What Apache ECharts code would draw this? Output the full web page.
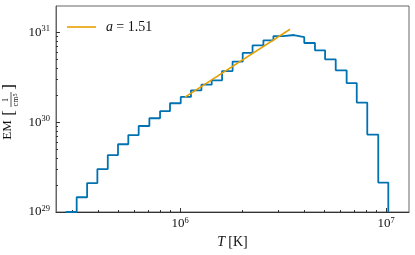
<!DOCTYPE html>
<html>
<head>
<meta charset="utf-8">
<script src="https://cdn.jsdelivr.net/npm/echarts@6/dist/echarts.min.js"></script>
<style>
html,body{margin:0;padding:0;background:#fff;}
#c{width:415px;height:255px;}
</style>
</head>
<body>
<div id="c"></div>
<script>
// ---- data ----
const binEdgesK = [2.79e5, 3.15e5, 3.54e5, 3.97e5, 4.46e5, 5.00e5, 5.61e5, 6.30e5, 7.10e5, 8.00e5,
  8.94e5, 1.008e6, 1.13e6, 1.27e6, 1.425e6, 1.60e6, 1.80e6, 2.015e6, 2.25e6, 2.54e6,
  2.84e6, 3.17e6, 3.57e6, 4.01e6, 4.52e6, 5.06e6, 5.70e6, 6.44e6, 7.21e6, 8.11e6,
  9.17e6, 1.026e7];
const emValues = [1.0e29, 1.46e29, 2.10e29, 3.01e29, 4.31e29, 5.69e29, 7.21e29, 9.09e29, 1.11e30, 1.33e30,
  1.63e30, 1.92e30, 2.27e30, 2.63e30, 2.94e30, 3.73e30, 4.75e30, 5.93e30, 7.22e30, 8.20e30,
  9.16e30, 9.40e30, 8.93e30, 7.66e30, 6.35e30, 5.04e30, 3.80e30, 2.74e30, 1.66e30, 7.30e29,
  2.13e29];
const fitT = [1.057e6, 3.42e6];
const fitEM = [1.914e30, 1.09e31];
const fitName = 'a = 1.51';
const xMajorTicks = [1e6, 1e7];
const xMinorTicks = [3e5, 4e5, 5e5, 6e5, 7e5, 8e5, 9e5, 2e6, 3e6, 4e6, 5e6, 6e6, 7e6, 8e6, 9e6];
const yMajorTicks = [1e29, 1e30, 1e31];
const yMinorTicks = [2e29, 3e29, 4e29, 5e29, 6e29, 7e29, 8e29, 9e29, 2e30, 3e30, 4e30, 5e30, 6e30, 7e30, 8e30, 9e30];
const xRange = [2.50e5, 1.293e7];
const yRange = [1e29, 1.98e31];

// ---- build step path ----
const floorVal = yRange[0];
const stepPts = [[binEdgesK[0], floorVal]];
for (let i = 0; i < emValues.length; i++) {
  stepPts.push([binEdgesK[i], emValues[i]]);
  stepPts.push([binEdgesK[i + 1], emValues[i]]);
}
stepPts.push([binEdgesK[binEdgesK.length - 1], floorVal]);
const fitPts = fitT.map((t, i) => [t, fitEM[i]]);

const FONT = 'Liberation Serif';
const TXT = '#111';
function powLabel(v) {
  const e = Math.round(Math.log10(v));
  return '{b|10}{s|' + e + '}';
}
const richPow = {
  b: { fontFamily: FONT, fontSize: 13, lineHeight: 16, color: TXT },
  s: { fontFamily: FONT, fontSize: 8.5, lineHeight: 8, verticalAlign: 'top', color: TXT }
};
const axisCol = '#333';

const chart = echarts.init(document.getElementById('c'), null, { renderer: 'canvas' });
chart.setOption({
  animation: false,
  backgroundColor: '#fff',
  grid: { left: 56, right: 6, top: 6, bottom: 43, show: true, borderColor: '#666', borderWidth: 1 },
  legend: {
    left: 62, top: 15,
    itemWidth: 29, itemHeight: 1.6,
    data: [{ name: fitName, icon: 'rect' }],
    formatter: () => '{i|a} {t|= 1.51}',
    textStyle: {
      padding: [0, 0, 0, 5],
      rich: {
        i: { fontFamily: FONT, fontStyle: 'italic', fontSize: 14, color: TXT },
        t: { fontFamily: FONT, fontSize: 14, color: TXT }
      }
    }
  },
  xAxis: [{
    type: 'log', min: xRange[0], max: xRange[1], logBase: 10,
    axisLine: { show: true, onZero: false, lineStyle: { color: axisCol, width: 1 } },
    axisTick: { show: true, inside: true, length: 4, customValues: xMajorTicks, lineStyle: { color: axisCol } },
    axisLabel: { customValues: xMajorTicks, margin: 4, formatter: powLabel, rich: richPow },
    splitLine: { show: false },
    name: '{i|T} {t|[K]}', nameLocation: 'middle', nameGap: 21,
    nameTextStyle: { rich: {
      i: { fontFamily: FONT, fontStyle: 'italic', fontSize: 14, color: TXT },
      t: { fontFamily: FONT, fontSize: 14, color: TXT } } }
  }, {
    type: 'log', min: xRange[0], max: xRange[1], logBase: 10, position: 'bottom',
    axisLine: { show: false },
    axisTick: { show: true, inside: true, length: 2, customValues: xMinorTicks, lineStyle: { color: axisCol } },
    axisLabel: { show: false },
    splitLine: { show: false }
  }],
  yAxis: [{
    type: 'log', min: yRange[0], max: yRange[1], logBase: 10,
    axisLine: { show: true, onZero: false, lineStyle: { color: '#666', width: 1 } },
    axisTick: { show: true, inside: true, length: 4, customValues: yMajorTicks, lineStyle: { color: axisCol } },
    axisLabel: { customValues: yMajorTicks, margin: 6, formatter: powLabel, rich: richPow },
    splitLine: { show: false }
  }, {
    type: 'log', min: yRange[0], max: yRange[1], logBase: 10, position: 'left',
    axisLine: { show: false },
    axisTick: { show: true, inside: true, length: 2, customValues: yMinorTicks, lineStyle: { color: axisCol } },
    axisLabel: { show: false },
    splitLine: { show: false }
  }],
  graphic: [{
    type: 'group', x: 11, y: 110, rotation: Math.PI / 2,
    children: [
      { type: 'text', x: -20, y: -3, style: { text: 'EM', font: '13px ' + FONT, fill: TXT, align: 'center', verticalAlign: 'middle' } },
      { type: 'text', x: -3, y: -1, style: { text: '[', font: '17px ' + FONT, fill: TXT, align: 'center', verticalAlign: 'middle' } },
      { type: 'text', x: 10, y: -5, style: { text: '1', font: '8px ' + FONT, fill: TXT, align: 'center', verticalAlign: 'middle' } },
      { type: 'line', shape: { x1: 3, y1: 0, x2: 18, y2: 0 }, style: { stroke: TXT, lineWidth: 0.7 } },
      { type: 'text', x: 10, y: 5, style: { text: '{a|cm}{b|5}', rich: { a: { font: '8px ' + FONT, fill: TXT }, b: { font: '6px ' + FONT, fill: TXT, verticalAlign: 'top', lineHeight: 4 } }, align: 'center', verticalAlign: 'middle' } },
      { type: 'text', x: 23, y: -1, style: { text: ']', font: '17px ' + FONT, fill: TXT, align: 'center', verticalAlign: 'middle' } }
    ]
  }],
  series: [{
    type: 'line', name: 'EM', data: stepPts, xAxisIndex: 0, yAxisIndex: 0,
    symbol: 'none', lineStyle: { color: '#0072B2', width: 1.8 }, itemStyle: { color: '#0072B2' }
  }, {
    type: 'line', name: fitName, data: fitPts, xAxisIndex: 0, yAxisIndex: 0,
    symbol: 'none', lineStyle: { color: '#E69F00', width: 1.5 }, itemStyle: { color: '#E69F00' }, z: 3
  }]
});
</script>
</body>
</html>
